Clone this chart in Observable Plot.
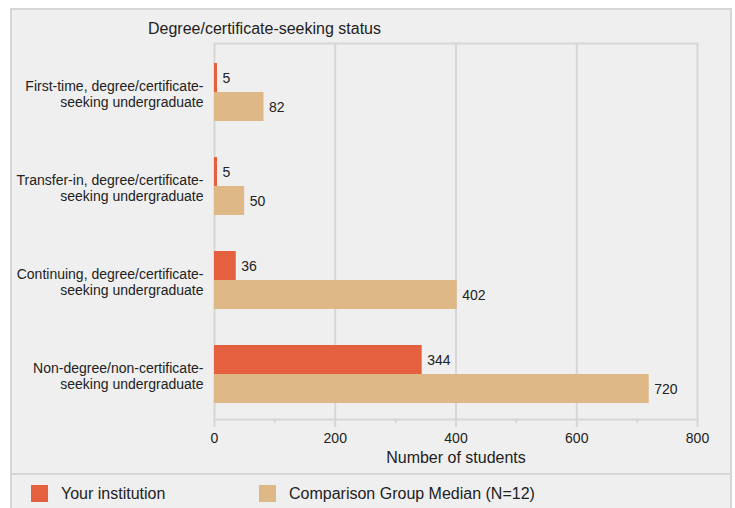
<!DOCTYPE html>
<html>
<head>
<meta charset="utf-8">
<script src="https://cdn.jsdelivr.net/npm/d3@7"></script>
<script src="https://cdn.jsdelivr.net/npm/@observablehq/plot@0.6"></script>
<style>
  html, body { margin: 0; padding: 0; background: #ffffff; }
  #wrap { position: relative; width: 735px; height: 508px; overflow: hidden; font-family: "Liberation Sans", Arial, Helvetica, sans-serif; color: #222; }
  #panel { position: absolute; left: 10px; top: 8px; width: 718px; height: 520px; border: 2px solid #d6d6d6; background: #efefef; }
  #chart { position: absolute; left: 0; top: 0; }
  #title { position: absolute; left: 148px; top: 19px; font-size: 16px; line-height: 20px; white-space: nowrap; }
  #sep { position: absolute; left: 12px; top: 473px; width: 718px; height: 2px; background: #d6d6d6; }
  .legend-item { position: absolute; top: 485px; height: 17px; display: flex; align-items: center; font-size: 16px; white-space: nowrap; }
  .swatch { width: 17px; height: 17px; margin-right: 13px; }
</style>
</head>
<body>
<div id="wrap">
  <div id="panel"></div>
  <div id="chart"></div>
  <div id="title"></div>
  <div id="sep"></div>
  <div id="legend"></div>
</div>
<script>
const chartTitle = "Degree/certificate-seeking status";
const xLabel = "Number of students";
const categories = [
  "First-time, degree/certificate-seeking undergraduate",
  "Transfer-in, degree/certificate-seeking undergraduate",
  "Continuing, degree/certificate-seeking undergraduate",
  "Non-degree/non-certificate-seeking undergraduate"
];
const series = ["Your institution", "Comparison Group Median (N=12)"];
const yourInstitution = [5, 5, 36, 344];
const comparisonMedian = [82, 50, 402, 720];
const xTicks = [0, 200, 400, 600, 800];
const xMinorTicks = [100, 300, 500, 700];
const colors = ["#e4603e", "#deb887"];

const data = categories.flatMap((c, i) => [
  {category: c, series: series[0], value: yourInstitution[i]},
  {category: c, series: series[1], value: comparisonMedian[i]}
]);

const gridColor = "#d6d6d6";

const chart = Plot.plot({
  width: 735,
  height: 475,
  marginLeft: 214,
  marginRight: 38,
  marginTop: 43,
  marginBottom: 56,
  style: {background: "transparent", fontFamily: "'Liberation Sans', Arial, Helvetica, sans-serif", fontSize: "14px", color: "#222"},
  x: {domain: [0, 800]},
  fy: {domain: categories, padding: 0},
  y: {domain: series, paddingInner: 0, paddingOuter: 0.62, align: 0.56, axis: null},
  color: {domain: series, range: colors},
  marks: [
    Plot.ruleX(xTicks.slice(1, -1), {stroke: gridColor, strokeWidth: 2}),
    Plot.frame({stroke: gridColor, strokeWidth: 2, facet: "super"}),
    Plot.barX(data, {fy: "category", y: "series", x: "value", fill: "series"}),
    Plot.text(data, {fy: "category", y: "series", x: "value", text: d => String(d.value), textAnchor: "start", dx: 5, dy: 1, fontSize: 14, fill: "#222"}),
    Plot.axisX({ticks: xTicks, tickSize: 8, tickPadding: 6, stroke: gridColor, strokeWidth: 2, fill: "#222", fontSize: 14, label: null}),
    Plot.axisX({ticks: xMinorTicks, tickSize: 4, tickFormat: () => "", stroke: gridColor, strokeWidth: 2, label: null}),
    Plot.axisFy({anchor: "left", label: null, tickSize: 0, tickPadding: 11, fontSize: 14, lineHeight: 1.15, dy: 3, fill: "#222",
      tickFormat: d => d.replace("certificate-", "certificate-\n")}),
    Plot.text([xLabel], {frameAnchor: "bottom", dy: 43, fontSize: 16, fill: "#222", facet: "super"})
  ]
});
document.getElementById("chart").appendChild(chart);
document.getElementById("title").textContent = chartTitle;

const legend = document.getElementById("legend");
const legendLefts = [31, 259];
series.forEach((s, i) => {
  const item = document.createElement("div");
  item.className = "legend-item";
  item.style.left = legendLefts[i] + "px";
  const sw = document.createElement("div");
  sw.className = "swatch";
  sw.style.background = colors[i];
  const label = document.createElement("span");
  label.textContent = s;
  item.appendChild(sw);
  item.appendChild(label);
  legend.appendChild(item);
});
</script>
</body>
</html>
